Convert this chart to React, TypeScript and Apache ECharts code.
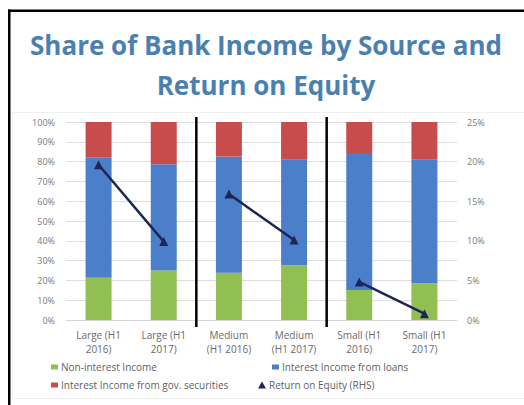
import React, { useEffect, useRef } from 'react';
import * as echarts from 'echarts';

const categories = [
  'Large (H1\n2016)',
  'Large (H1\n2017)',
  'Medium\n(H1 2016)',
  'Medium\n(H1 2017)',
  'Small (H1\n2016)',
  'Small (H1\n2017)',
];
const nonInterest = [21.3, 25.0, 23.9, 27.6, 15.2, 18.6];
const loans = [60.9, 53.7, 58.6, 53.3, 69.1, 62.3];
const govSecurities = [17.8, 21.3, 17.5, 19.1, 15.7, 19.1];
const roeLarge = [19.6, 9.9, null, null, null, null];
const roeMedium = [null, null, 15.9, 10.1, null, null];
const roeSmall = [null, null, null, null, 4.8, 0.8];

const NAMES = {
  non: 'Non-interest Income',
  loans: 'Interest Income from loans',
  gov: 'Interest Income from gov. securities',
  roe: 'Return on Equity (RHS)',
};

const FONT = '"Open Sans", "Noto Sans", sans-serif';
const GREEN = '#92bf52';
const BLUE = '#4b7fca';
const RED = '#c84c4c';
const NAVY = '#1c2657';

const toSeries = (arr: (number | null)[]) => arr.map((v) => (v === null ? '-' : v));

export default function App() {
  const ref = useRef<HTMLDivElement>(null);

  useEffect(() => {
    if (!ref.current) return;
    const chart = echarts.init(ref.current, undefined, { renderer: 'svg' });

    const titleStyle = { font: `bold 26px ${FONT}`, fill: '#4a80b0', textAlign: 'center', textVerticalAlign: 'middle' };

    const frame: any[] = [
      { type: 'rect', shape: { x: 12.5, y: 112.5, width: 530, height: 286 }, style: { fill: 'none', stroke: '#f0f0f0', lineWidth: 1 }, silent: true },
      { type: 'rect', shape: { x: 8, y: 9.5, width: 520, height: 2.5 }, style: { fill: '#000' }, silent: true },
      { type: 'rect', shape: { x: 8, y: 9.5, width: 2.5, height: 400 }, style: { fill: '#000' }, silent: true },
      { type: 'text', x: 266, y: 45, style: { ...titleStyle, text: 'Share of Bank Income by Source and' }, silent: true },
      { type: 'text', x: 266, y: 85, style: { ...titleStyle, text: 'Return on Equity' }, silent: true },
    ];

    const lineSeries = (data: (number | null)[]) => ({
      name: NAMES.roe,
      type: 'line',
      yAxisIndex: 1,
      data: toSeries(data),
      symbol: 'triangle',
      symbolSize: 9,
      lineStyle: { color: NAVY, width: 2.5 },
      itemStyle: { color: NAVY },
      z: 5,
    });

    const legendBase = {
      padding: 0,
      itemGap: 0,
      textStyle: { fontFamily: FONT, fontSize: 10, color: '#5f5f5f', padding: [0, 0, 0, -2] },
    };

    chart.setOption({
      animation: false,
      backgroundColor: '#fff',
      legend: [
        { ...legendBase, data: [{ name: NAMES.non, icon: 'rect' }], left: 51, top: 362, itemWidth: 7, itemHeight: 5 },
        { ...legendBase, data: [{ name: NAMES.loans, icon: 'rect' }], left: 272, top: 362, itemWidth: 7, itemHeight: 5 },
        { ...legendBase, data: [{ name: NAMES.gov, icon: 'rect' }], left: 51, top: 380, itemWidth: 7, itemHeight: 5 },
        { ...legendBase, data: [{ name: NAMES.roe, icon: 'triangle' }], left: 258, top: 380, itemWidth: 8, itemHeight: 7 },
      ],
      grid: { left: 66, right: 67, top: 122, bottom: 85, containLabel: false },
      xAxis: {
        type: 'category',
        data: categories,
        axisTick: { show: false },
        axisLine: { show: true, lineStyle: { color: '#d9d9d9' } },
        axisLabel: { fontFamily: FONT, fontSize: 10, color: '#6a6a6a', lineHeight: 14, margin: 8, interval: 0 },
      },
      yAxis: [
        {
          type: 'value',
          min: 0,
          max: 100,
          interval: 10,
          axisLine: { show: false },
          axisTick: { show: false },
          splitLine: { lineStyle: { color: '#dedede' } },
          axisLabel: { fontFamily: FONT, fontSize: 9, color: '#7a7a7a', margin: 11, formatter: '{value}%' },
        },
        {
          type: 'value',
          min: 0,
          max: 25,
          interval: 5,
          axisLine: { show: false },
          axisTick: { show: false },
          splitLine: { show: false },
          axisLabel: { fontFamily: FONT, fontSize: 9, color: '#7a7a7a', margin: 10, formatter: '{value}%' },
        },
      ],
      series: [
        { name: NAMES.non, type: 'bar', stack: 'inc', data: nonInterest, barWidth: 26, itemStyle: { color: GREEN } },
        { name: NAMES.loans, type: 'bar', stack: 'inc', data: loans, barWidth: 26, itemStyle: { color: BLUE } },
        { name: NAMES.gov, type: 'bar', stack: 'inc', data: govSecurities, barWidth: 26, itemStyle: { color: RED } },
        lineSeries(roeLarge),
        lineSeries(roeMedium),
        lineSeries(roeSmall),
      ],
      graphic: frame,
    });

    const px = (i: number) => chart.convertToPixel({ xAxisIndex: 0 }, i) as number;
    const seps = [1, 3].map((i) => {
      const x = (px(i) + px(i + 1)) / 2;
      return {
        type: 'rect',
        shape: { x: x - 1.25, y: 117, width: 2.5, height: 210 },
        style: { fill: '#000' },
        silent: true,
        z: 10,
      };
    });
    chart.setOption({ graphic: [...frame, ...seps] });

    return () => chart.dispose();
  }, []);

  return (
    <div
      ref={ref}
      style={{ position: 'fixed', left: 0, top: 0, width: 524, height: 405 }}
    />
  );
}
